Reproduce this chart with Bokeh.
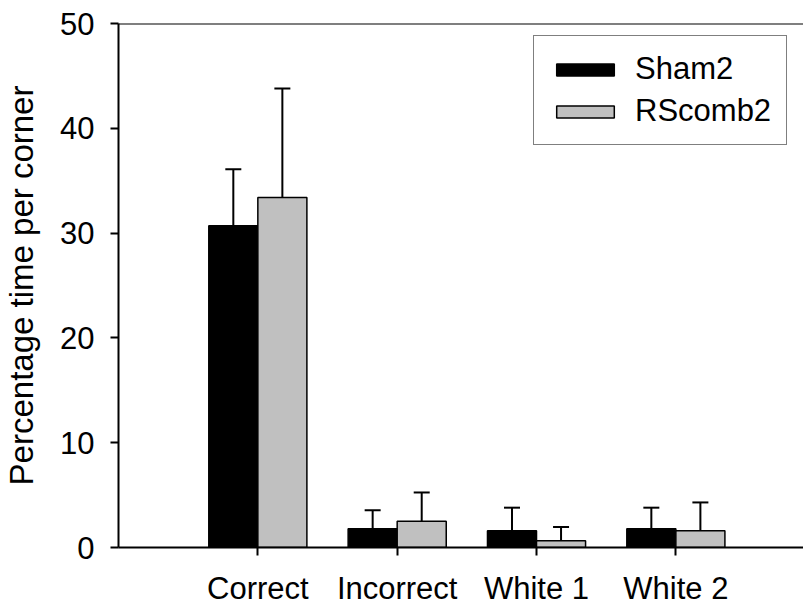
import numpy as np
from bokeh.plotting import figure
from bokeh.models import (ColumnDataSource, Range1d, FixedTicker, Whisker, TeeHead,
                          Legend, LegendItem, Span)
from bokeh.embed import file_html
from bokeh.resources import INLINE

# Percentage of time spent in each corner, mean and SEM per group
categories = ["Correct", "Incorrect", "White 1", "White 2"]
sham2 = [30.7, 1.8, 1.6, 1.8]
sham2_err = [5.4, 1.75, 2.2, 2.0]
rscomb2 = [33.4, 2.5, 0.65, 1.6]
rscomb2_err = [10.4, 2.75, 1.3, 2.7]
y_ticks = [0, 10, 20, 30, 40, 50]

FONT = "Liberation Sans"
BAR_W = 0.352

x = np.arange(1, len(categories) + 1)
src = ColumnDataSource(dict(
    x_sham=x - BAR_W / 2,
    x_rs=x + BAR_W / 2,
    sham=sham2,
    sham_top=np.array(sham2) + np.array(sham2_err),
    rs=rscomb2,
    rs_top=np.array(rscomb2) + np.array(rscomb2_err),
))

p = figure(width=803, height=608, output_backend="svg", toolbar_location=None,
           x_range=Range1d(0, 4.916), y_range=Range1d(0, 50),
           min_border_left=118, min_border_right=0, min_border_top=23,
           min_border_bottom=60)
p.outline_line_color = None
p.grid.visible = False
p.background_fill_color = "white"
p.border_fill_color = "white"

r_sham = p.vbar(x="x_sham", top="sham", bottom=0, width=BAR_W, source=src,
                fill_color="black", line_color="black", line_width=1.5)
r_rs = p.vbar(x="x_rs", top="rs", bottom=0, width=BAR_W, source=src,
              fill_color="#C0C0C0", line_color="black", line_width=1.5)

for base, lo, hi in (("x_sham", "sham", "sham_top"), ("x_rs", "rs", "rs_top")):
    p.add_layout(Whisker(source=src, base=base, lower=lo, upper=hi,
                         lower_head=None,
                         upper_head=TeeHead(size=16, line_width=2, line_color="black"),
                         line_width=2, line_color="black"))

# top edge of the plotting frame
p.add_layout(Span(location=50, dimension="width", line_color="black", line_width=2))

# x axis
p.xaxis.ticker = FixedTicker(ticks=list(x))
p.xaxis.major_label_overrides = {int(i): c for i, c in zip(x, categories)}
p.xaxis.major_tick_out = 8
p.xaxis.major_tick_in = 0
p.xaxis.minor_tick_line_color = None
p.xaxis.axis_line_width = 2
p.xaxis.major_tick_line_width = 2
p.xaxis.major_label_text_font = FONT
p.xaxis.major_label_text_font_size = "31px"
p.xaxis.major_label_text_color = "black"
p.xaxis.major_label_standoff = 15

# y axis
p.yaxis.ticker = FixedTicker(ticks=y_ticks)
p.yaxis.major_tick_out = 8
p.yaxis.major_tick_in = 0
p.yaxis.minor_tick_line_color = None
p.yaxis.axis_line_width = 2
p.yaxis.major_tick_line_width = 2
p.yaxis.major_label_text_font = FONT
p.yaxis.major_label_text_font_size = "31px"
p.yaxis.major_label_text_color = "black"
p.yaxis.major_label_standoff = 16
p.yaxis.axis_label = "Percentage time per corner"
p.yaxis.axis_label_text_font = FONT
p.yaxis.axis_label_text_font_size = "33px"
p.yaxis.axis_label_text_font_style = "normal"
p.yaxis.axis_label_text_color = "black"
p.yaxis.axis_label_standoff = 17

legend = Legend(items=[LegendItem(label="Sham2", renderers=[r_sham]),
                       LegendItem(label="RScomb2", renderers=[r_rs])],
                location=(415, 402),
                border_line_color="black", border_line_width=1.5,
                background_fill_color="white", background_fill_alpha=1.0,
                label_text_font=FONT, label_text_font_size="31px",
                label_text_color="black",
                glyph_width=72, glyph_height=15, label_standoff=14,
                padding=15, spacing=6, margin=0)
p.add_layout(legend)

open("out.html", "w").write(file_html(p, INLINE))
